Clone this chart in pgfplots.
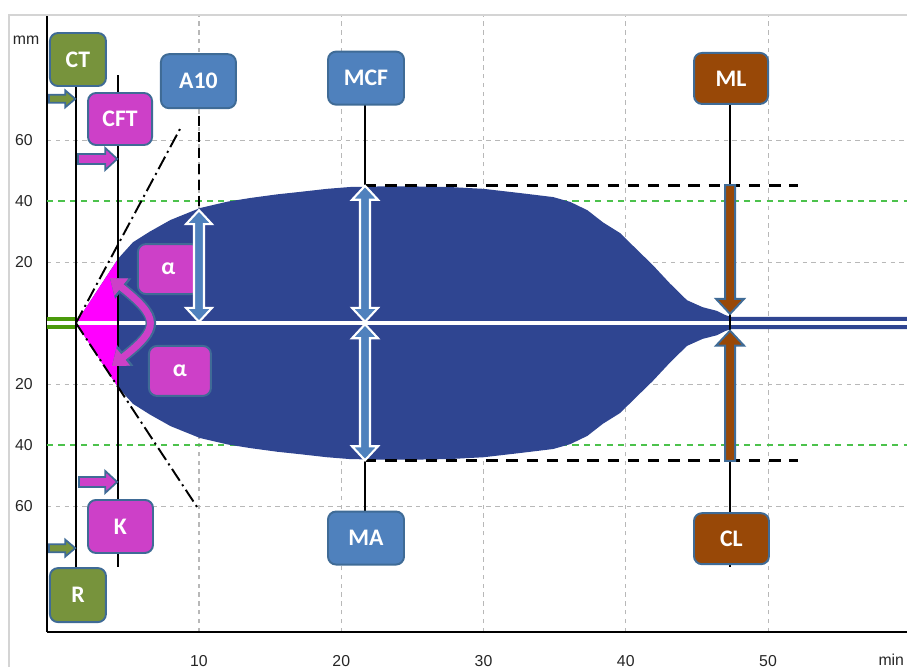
\documentclass[border=0pt]{standalone}
\usepackage{fontspec}
\setmainfont{Liberation Sans}
\newfontfamily\boxfont{Carlito}
\usepackage{pgfplots}
\pgfplotsset{compat=1.18}
\usetikzlibrary{arrows.meta}
\definecolor{blob}{HTML}{2F4591}
\definecolor{magfill}{HTML}{FF00FF}
\definecolor{magbox}{HTML}{CD40C8}
\definecolor{grnbox}{HTML}{77933C}
\definecolor{bluebox}{HTML}{4F81BD}
\definecolor{brnbox}{HTML}{984807}
\definecolor{bord}{HTML}{3F6B96}
\definecolor{trace}{HTML}{4A9A0A}
\definecolor{gridgreen}{HTML}{4CC24C}
\definecolor{gridgray}{HTML}{B8B8B8}
\definecolor{framecol}{HTML}{D4D4D4}
\tikzset{
  box/.style={draw=bord, line width=1.1pt, rounded corners=0.16cm, text=white,
    font=\boxfont\bfseries\fontsize{13.5}{15}\selectfont, inner sep=0pt},
}
% vertical double arrow: #1 top tip, #2 bottom tip
\newcommand\vdouble[2]{%
  \draw[fill=bluebox, draw=white, line width=1.2pt, line join=miter]
  (#1) -- ([shift={(0.26,-0.28)}]#1) -- ([shift={(0.1,-0.28)}]#1)
  -- ([shift={(0.1,0.28)}]#2) -- ([shift={(0.26,0.28)}]#2) -- (#2)
  -- ([shift={(-0.26,0.28)}]#2) -- ([shift={(-0.1,0.28)}]#2)
  -- ([shift={(-0.1,-0.28)}]#1) -- ([shift={(-0.26,-0.28)}]#1) -- cycle;}
% down arrow: #1 tail (top), #2 tip (bottom)
\newcommand\vdown[2]{%
  \draw[fill=brnbox, draw=bord, line width=1.1pt, line join=miter]
  ([shift={(-0.1,0)}]#1) -- ([shift={(0.1,0)}]#1) -- ([shift={(0.1,0.3)}]#2)
  -- ([shift={(0.28,0.3)}]#2) -- (#2) -- ([shift={(-0.28,0.3)}]#2)
  -- ([shift={(-0.1,0.3)}]#2) -- cycle;}
% up arrow: #1 tail (bottom), #2 tip (top)
\newcommand\vup[2]{%
  \draw[fill=brnbox, draw=bord, line width=1.1pt, line join=miter]
  ([shift={(-0.1,0)}]#1) -- ([shift={(0.1,0)}]#1) -- ([shift={(0.1,-0.3)}]#2)
  -- ([shift={(0.28,-0.3)}]#2) -- (#2) -- ([shift={(-0.28,-0.3)}]#2)
  -- ([shift={(-0.1,-0.3)}]#2) -- cycle;}
% right arrow: #1 tail, #2 tip, #3 shaft half, #4 head half, #5 head length, #6 colour
\newcommand\hright[6]{%
  \draw[fill=#6, draw=bord, line width=1pt, line join=miter]
  ([shift={(0,#3)}]#1) -- ([shift={(-#5,#3)}]#2) -- ([shift={(-#5,#4)}]#2)
  -- (#2) -- ([shift={(-#5,-#4)}]#2) -- ([shift={(-#5,-#3)}]#2)
  -- ([shift={(0,-#3)}]#1) -- cycle;}
\begin{document}
\begin{tikzpicture}
\useasboundingbox (-0.94,-0.70) rectangle (17.2,12.64);
\begin{axis}[
  at={(0,0)}, anchor=south west,
  scale only axis, width=17.2cm, height=12.34cm,
  xmin=-0.685, xmax=59.77, ymin=-101.3, ymax=101,
  axis x line*=bottom, axis y line*=left,
  axis line style={black, line width=1.1pt},
  xtick={10,20,30,40,50},
  ytick={-60,-20,20,60}, yticklabels={60,20,20,60},
  extra y ticks={-40,40}, extra y tick labels={40,40},
  extra y tick style={grid=major, major grid style={gridgreen, line width=1pt, dash pattern=on 3.5pt off 3pt}},
  grid=major,
  major grid style={gridgray, line width=0.6pt, dash pattern=on 2.5pt off 2.5pt},
  major tick length=0pt,
  tick label style={font=\fontsize{9}{10}\selectfont, text=black!85},
  xticklabel style={yshift=-0.34cm},
  yticklabel style={xshift=-0.16cm},
  /pgf/number format/assume math mode=true,
  clip=false,
]
% clot trace envelope (mm)
\addplot[fill=blob, draw=none] coordinates {
 (1.35,0) (4.33,21.2) (5.36,26.5) (6.55,30.0) (8.0,33.8) (10.07,37.7) (12.0,39.8)
 (13.6,41.0) (15.5,42.2) (17.1,43.0) (19.0,44.0) (20.6,44.6) (22.9,44.8) (25.0,44.8)
 (27.6,44.6) (30.0,44.0) (32.6,42.6) (34.9,41.3) (36.1,39.7) (37.3,37.0) (38.4,33.0)
 (39.6,29.5) (40.8,24.0) (41.9,19.0) (43.1,13.0) (44.3,7.5) (45.4,5.2) (46.4,4.0)
 (47.0,2.6) (47.4,2.0) (59.77,2.0)
 (59.77,-2.0) (47.4,-2.0) (47.0,-2.6) (46.4,-4.0) (45.4,-5.2) (44.3,-7.5) (43.1,-13.0)
 (41.9,-19.0) (40.8,-24.0) (39.6,-29.5) (38.4,-33.0) (37.3,-37.0) (36.1,-39.7)
 (34.9,-41.3) (32.6,-42.6) (30.0,-44.0) (27.6,-44.6) (25.0,-44.8) (22.9,-44.8)
 (20.6,-44.6) (19.0,-44.0) (17.1,-43.0) (15.5,-42.2) (13.6,-41.0) (12.0,-39.8)
 (10.07,-37.7) (8.0,-33.8) (6.55,-30.0) (5.36,-26.5) (4.33,-21.2) (1.35,0)
} -- cycle;
\addplot[fill=magfill, draw=none] coordinates {(1.35,0) (4.33,21.2) (4.33,-21.2)} -- cycle;
\addplot[fill=trace, draw=none] coordinates {(-0.685,2) (1.35,2) (1.35,-2) (-0.685,-2)} -- cycle;
\draw[white, line width=2pt] (axis cs:-0.685,0) -- (axis cs:59.77,0);
% reference lines
\draw[black, line width=1.1pt] (axis cs:1.35,86) -- (axis cs:1.35,-80);
\draw[black, line width=1.1pt] (axis cs:4.33,81.3) -- (axis cs:4.33,-80);
\draw[black, line width=1.7pt, dash pattern=on 5.7pt off 3.4pt] (axis cs:10,68) -- (axis cs:10,37.3);
\draw[black, line width=1.1pt] (axis cs:21.67,75) -- (axis cs:21.67,45.2);
\draw[black, line width=1.1pt] (axis cs:21.67,-45.2) -- (axis cs:21.67,-65);
\draw[black, line width=1.1pt] (axis cs:47.33,75) -- (axis cs:47.33,-80);
\draw[black, line width=1.7pt, dash pattern=on 6.5pt off 5pt] (axis cs:21.67,45.2) -- (axis cs:52.1,45.2);
\draw[black, line width=1.7pt, dash pattern=on 6.5pt off 5pt] (axis cs:21.67,-45.2) -- (axis cs:52.1,-45.2);
\draw[black, line width=1.1pt, dash pattern=on 8pt off 2.5pt on 1.2pt off 2.5pt] (axis cs:1.35,0) -- (axis cs:8.66,63.6);
\draw[black, line width=1.1pt, dash pattern=on 8pt off 2.5pt on 1.2pt off 2.5pt] (axis cs:1.35,0) -- (axis cs:9.86,-60.3);
% frame and unit labels
\draw[framecol, line width=1.1pt] (axis description cs:-0.0453,1) -- (axis description cs:1,1);
\draw[framecol, line width=1.1pt] (axis description cs:-0.0442,1) -- (axis description cs:-0.0442,-0.0567);
\node[font=\fontsize{9}{10}\selectfont, text=black!85] at (axis description cs:-0.0244,0.9595) {mm};
\node[font=\fontsize{9}{10}\selectfont, text=black!85, anchor=east, inner sep=1pt] at (axis description cs:0.999,-0.0454) {min};
% anchor coordinates for annotations
\coordinate (bCT) at (axis cs:1.49,86.4);
\coordinate (bR) at (axis cs:1.49,-89.2);
\coordinate (bCFT) at (axis cs:4.45,66.9);
\coordinate (bK) at (axis cs:4.48,-66.7);
\coordinate (bA10) at (axis cs:9.96,79.3);
\coordinate (bMCF) at (axis cs:21.74,80.3);
\coordinate (bMA) at (axis cs:21.74,-70.5);
\coordinate (bML) at (axis cs:47.4,80.2);
\coordinate (bCL) at (axis cs:47.43,-70.7);
\coordinate (bAu) at (axis cs:7.85,17.7);
\coordinate (bAl) at (axis cs:8.66,-15.7);
\coordinate (a10t) at (axis cs:10,37.0);
\coordinate (a10b) at (axis cs:10,0.4);
\coordinate (mcfut) at (axis cs:21.67,45.0);
\coordinate (mcfub) at (axis cs:21.67,0.4);
\coordinate (mcflt) at (axis cs:21.67,-0.4);
\coordinate (mcflb) at (axis cs:21.67,-45.0);
\coordinate (mlt) at (axis cs:47.33,45.2);
\coordinate (mlp) at (axis cs:47.33,3.0);
\coordinate (clt) at (axis cs:47.33,-45.2);
\coordinate (clp) at (axis cs:47.33,-2.5);
\coordinate (gTl) at (axis cs:-0.55,73.5);
\coordinate (gTr) at (axis cs:1.3,73.5);
\coordinate (mTl) at (axis cs:1.49,53.8);
\coordinate (mTr) at (axis cs:4.25,53.8);
\coordinate (mBl) at (axis cs:1.56,-52.1);
\coordinate (mBr) at (axis cs:4.25,-52.1);
\coordinate (gBl) at (axis cs:-0.55,-73.8);
\coordinate (gBr) at (axis cs:1.3,-73.8);
\coordinate (c0) at (axis cs:3.74,14.75);
\coordinate (c1) at (axis cs:7.26,1.64);
\coordinate (c2) at (axis cs:7.26,-1.64);
\coordinate (c3) at (axis cs:3.88,-14.1);
\end{axis}
% curved alpha arrow
\draw[bord, line width=0.21cm, {Triangle[width=0.5cm,length=0.34cm]}-{Triangle[width=0.5cm,length=0.34cm]}]
  (c0) .. controls (c1) and (c2) .. (c3);
\draw[magbox, line width=0.14cm, {Triangle[width=0.42cm,length=0.29cm]}-{Triangle[width=0.42cm,length=0.29cm]}]
  (c0) .. controls (c1) and (c2) .. (c3);
\node[box, fill=magbox, minimum width=1.22cm, minimum height=1.0cm] at (bAu) {α};
\node[box, fill=magbox, minimum width=1.24cm, minimum height=1.0cm] at (bAl) {α};
% arrows
\vdouble{a10t}{a10b}
\vdouble{mcfut}{mcfub}
\vdouble{mcflt}{mcflb}
\vdown{mlt}{mlp}
\vup{clt}{clp}
\hright{gTl}{gTr}{0.08}{0.17}{0.2}{grnbox}
\hright{gBl}{gBr}{0.08}{0.17}{0.2}{grnbox}
\hright{mTl}{mTr}{0.1}{0.22}{0.24}{magbox}
\hright{mBl}{mBr}{0.1}{0.22}{0.24}{magbox}
% boxes
\node[box, fill=grnbox, minimum width=1.12cm, minimum height=1.06cm] at (bCT) {CT};
\node[box, fill=grnbox, minimum width=1.12cm, minimum height=1.08cm] at (bR) {R};
\node[box, fill=magbox, minimum width=1.28cm, minimum height=1.04cm] at (bCFT) {CFT};
\node[box, fill=magbox, minimum width=1.30cm, minimum height=1.06cm] at (bK) {K};
\node[box, fill=bluebox, minimum width=1.50cm, minimum height=1.08cm] at (bA10) {A10};
\node[box, fill=bluebox, minimum width=1.52cm, minimum height=1.06cm] at (bMCF) {MCF};
\node[box, fill=bluebox, minimum width=1.52cm, minimum height=1.06cm] at (bMA) {MA};
\node[box, fill=brnbox, minimum width=1.48cm, minimum height=1.02cm] at (bML) {ML};
\node[box, fill=brnbox, minimum width=1.50cm, minimum height=1.02cm] at (bCL) {CL};
\end{tikzpicture}
\end{document}
